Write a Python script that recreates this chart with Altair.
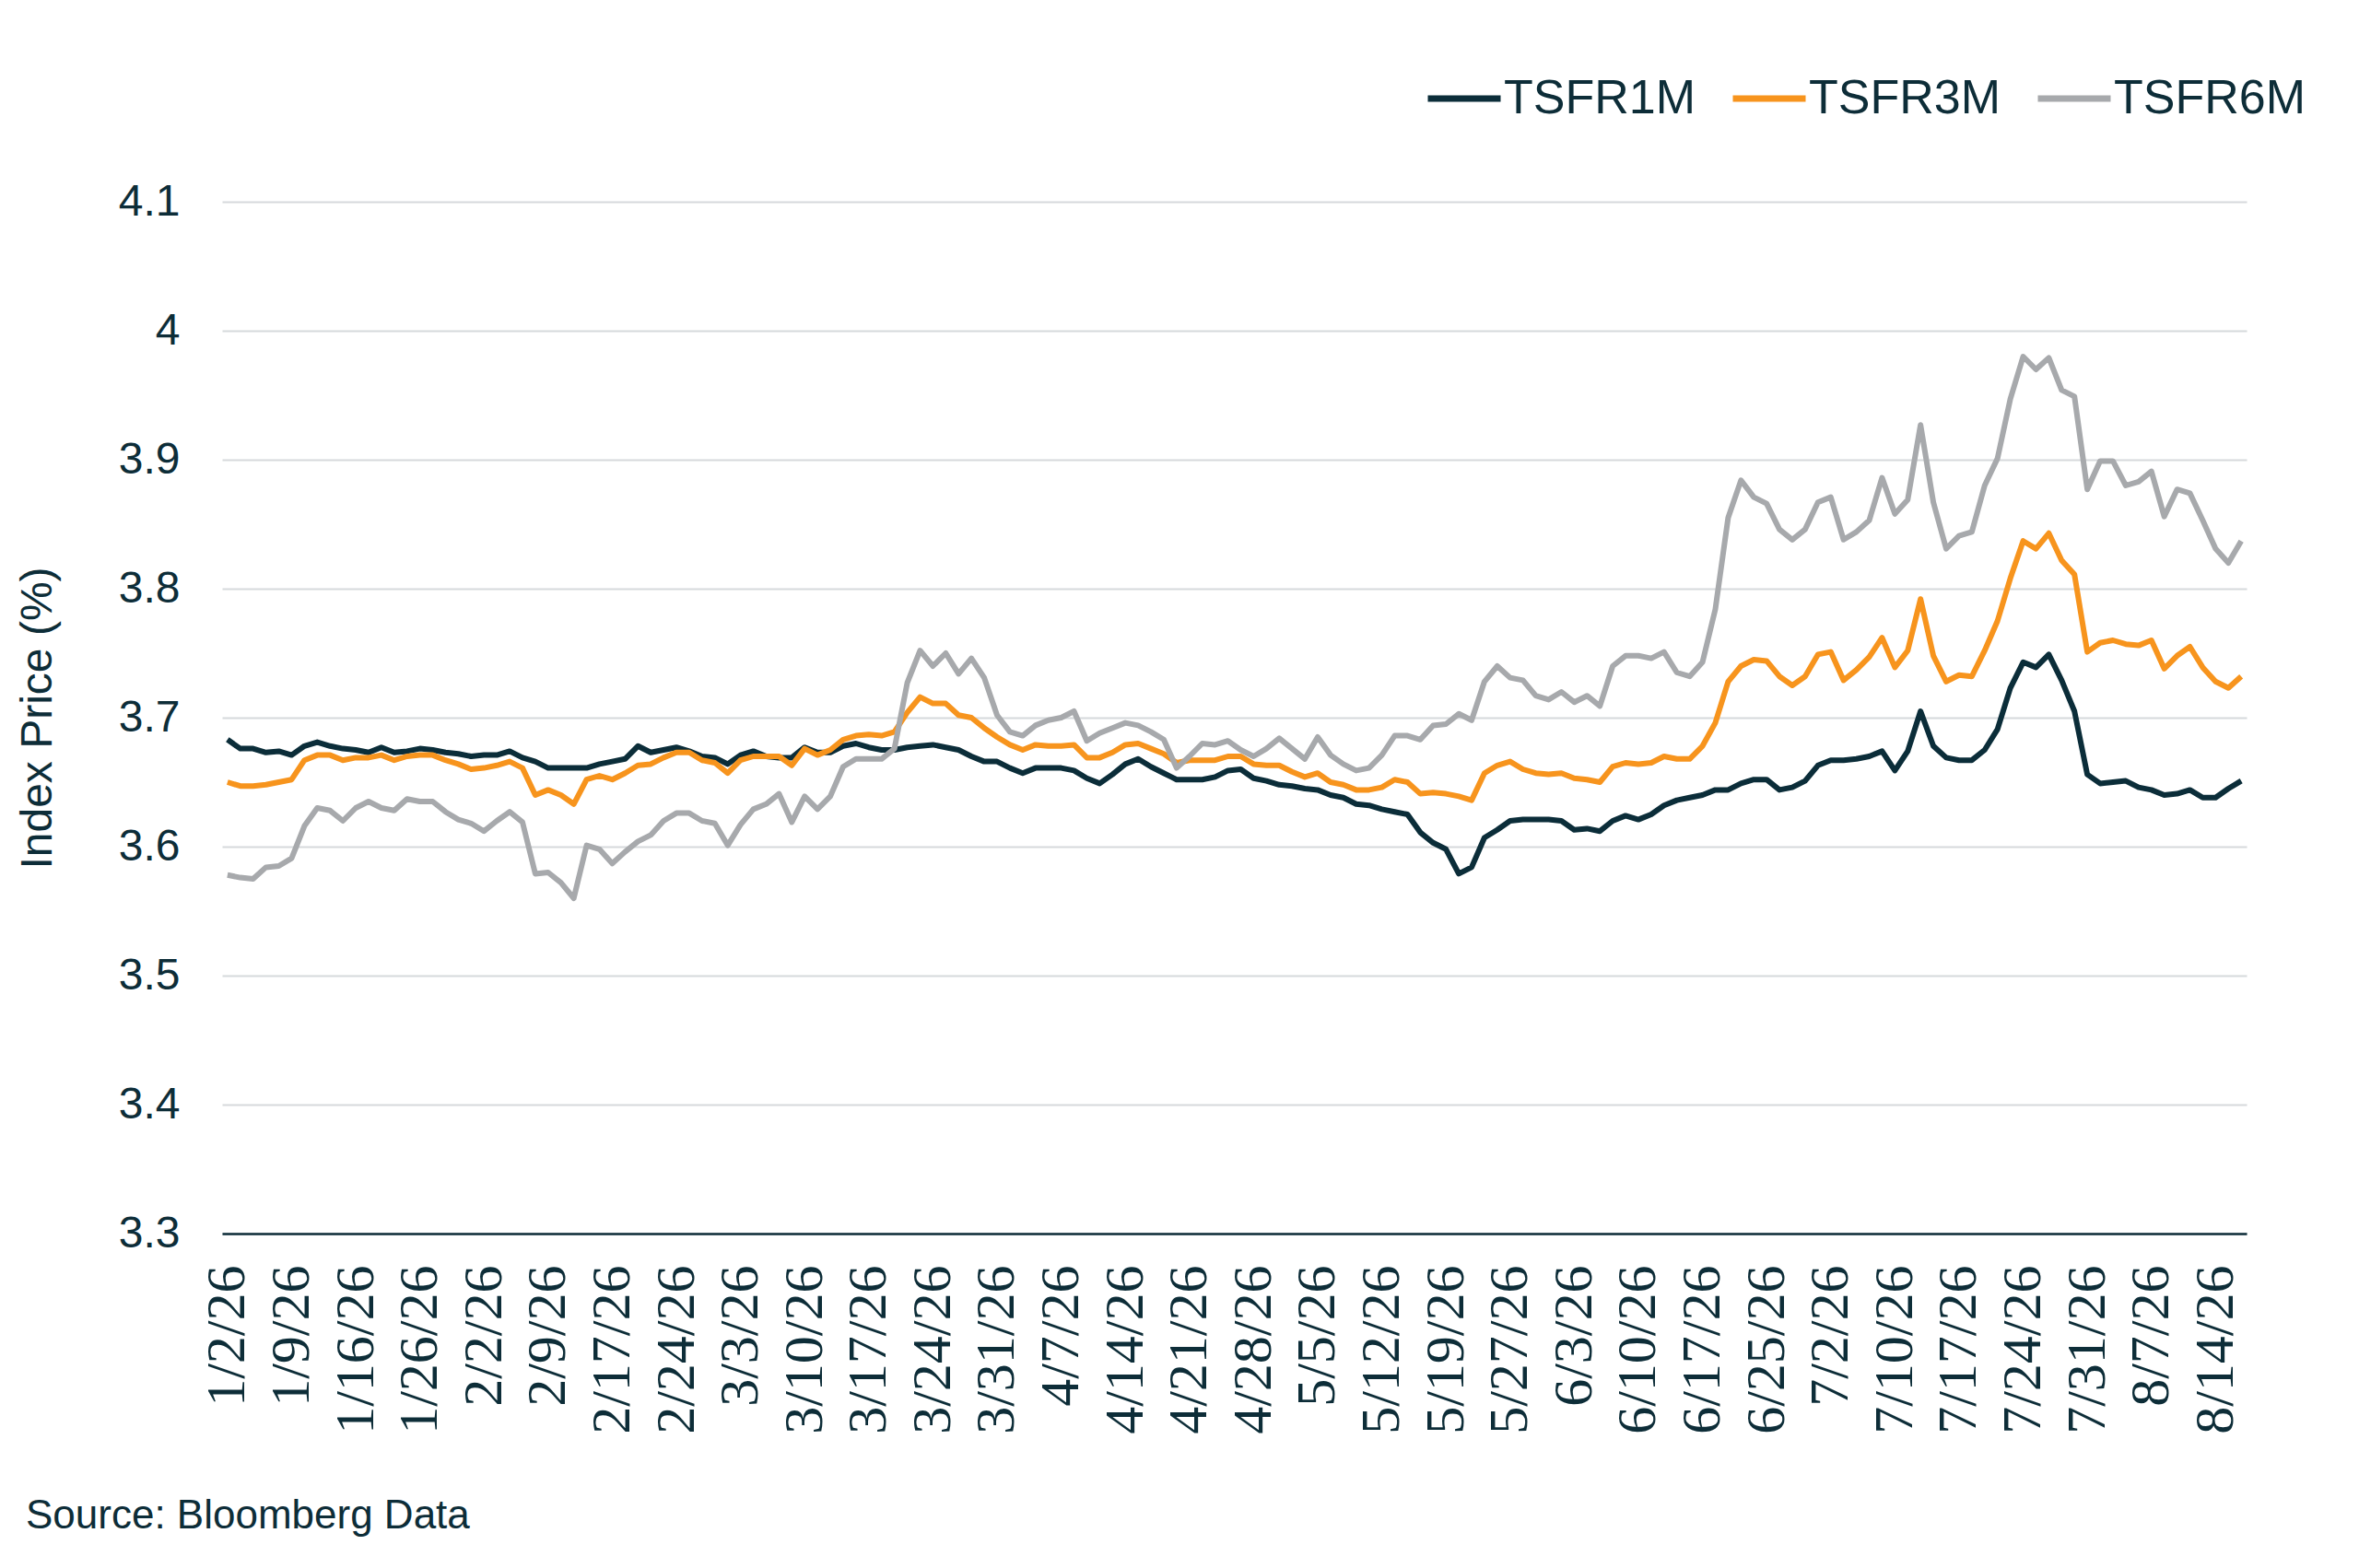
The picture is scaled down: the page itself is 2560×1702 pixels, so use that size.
import altair as alt
import pandas as pd

dates = [
    "1/2/26", "1/5/26", "1/6/26", "1/7/26", "1/8/26", "1/9/26", "1/12/26", "1/13/26", "1/14/26", "1/15/26",
    "1/16/26", "1/20/26", "1/21/26", "1/22/26", "1/23/26", "1/26/26", "1/27/26", "1/28/26", "1/29/26", "1/30/26",
    "2/2/26", "2/3/26", "2/4/26", "2/5/26", "2/6/26", "2/9/26", "2/10/26", "2/11/26", "2/12/26", "2/13/26",
    "2/17/26", "2/18/26", "2/19/26", "2/20/26", "2/23/26", "2/24/26", "2/25/26", "2/26/26", "2/27/26",
    "3/2/26", "3/3/26", "3/4/26", "3/5/26", "3/6/26", "3/9/26", "3/10/26", "3/11/26", "3/12/26", "3/13/26",
    "3/16/26", "3/17/26", "3/18/26", "3/19/26", "3/20/26", "3/23/26", "3/24/26", "3/25/26", "3/26/26", "3/27/26",
    "3/30/26", "3/31/26",
    "4/1/26", "4/2/26", "4/3/26", "4/6/26", "4/7/26", "4/8/26", "4/9/26", "4/10/26", "4/13/26", "4/14/26",
    "4/15/26", "4/16/26", "4/17/26", "4/20/26", "4/21/26", "4/22/26", "4/23/26", "4/24/26", "4/27/26", "4/28/26",
    "4/29/26", "4/30/26",
    "5/1/26", "5/4/26", "5/5/26", "5/6/26", "5/7/26", "5/8/26", "5/11/26", "5/12/26", "5/13/26", "5/14/26",
    "5/15/26", "5/18/26", "5/19/26", "5/20/26", "5/21/26", "5/22/26", "5/26/26", "5/27/26", "5/28/26", "5/29/26",
    "6/1/26", "6/2/26", "6/3/26", "6/4/26", "6/5/26", "6/8/26", "6/9/26", "6/10/26", "6/11/26", "6/12/26",
    "6/15/26", "6/16/26", "6/17/26", "6/18/26", "6/22/26", "6/23/26", "6/24/26", "6/25/26", "6/26/26", "6/29/26",
    "6/30/26",
    "7/1/26", "7/2/26", "7/6/26", "7/7/26", "7/8/26", "7/9/26", "7/10/26", "7/13/26", "7/14/26", "7/15/26",
    "7/16/26", "7/17/26", "7/20/26", "7/21/26", "7/22/26", "7/23/26", "7/24/26", "7/27/26", "7/28/26", "7/29/26",
    "7/30/26", "7/31/26",
    "8/3/26", "8/4/26", "8/5/26", "8/6/26", "8/7/26", "8/10/26", "8/11/26", "8/12/26", "8/13/26", "8/14/26",
    "8/17/26", "8/18/26",
]

tick_labels = [
    "1/2/26", "1/9/26", "1/16/26", "1/26/26", "2/2/26", "2/9/26", "2/17/26", "2/24/26", "3/3/26", "3/10/26",
    "3/17/26", "3/24/26", "3/31/26", "4/7/26", "4/14/26", "4/21/26", "4/28/26", "5/5/26", "5/12/26", "5/19/26",
    "5/27/26", "6/3/26", "6/10/26", "6/17/26", "6/25/26", "7/2/26", "7/10/26", "7/17/26", "7/24/26", "7/31/26",
    "8/7/26", "8/14/26",
]

tsfr1m = [
    3.683, 3.676, 3.676, 3.673, 3.674, 3.671, 3.678, 3.681, 3.678, 3.676,
    3.675, 3.673, 3.677, 3.673, 3.674, 3.676, 3.675, 3.673, 3.672, 3.670,
    3.671, 3.671, 3.674, 3.669, 3.666, 3.661, 3.661, 3.661, 3.661, 3.664,
    3.666, 3.668, 3.678, 3.673, 3.675, 3.677, 3.674, 3.670, 3.669, 3.664,
    3.671, 3.674, 3.670, 3.669, 3.669, 3.677, 3.673, 3.673, 3.678, 3.680,
    3.677, 3.675, 3.675, 3.677, 3.678, 3.679, 3.677, 3.675, 3.670, 3.666,
    3.666, 3.661, 3.657, 3.661, 3.661, 3.661, 3.659, 3.653, 3.649, 3.656,
    3.664, 3.668, 3.662, 3.657, 3.652, 3.652, 3.652, 3.654, 3.659, 3.660,
    3.653, 3.651, 3.648, 3.647, 3.645, 3.644, 3.640, 3.638, 3.633, 3.632,
    3.629, 3.627, 3.625, 3.611, 3.603, 3.598, 3.579, 3.584, 3.607, 3.613,
    3.620, 3.621, 3.621, 3.621, 3.620, 3.613, 3.614, 3.612, 3.620, 3.624,
    3.621, 3.625, 3.632, 3.636, 3.638, 3.640, 3.644, 3.644, 3.649, 3.652,
    3.652, 3.644, 3.646, 3.651, 3.663, 3.667, 3.667, 3.668, 3.670, 3.674,
    3.659, 3.674, 3.705, 3.678, 3.669, 3.667, 3.667, 3.675, 3.691, 3.723,
    3.743, 3.739, 3.749, 3.729, 3.705, 3.656, 3.649, 3.650, 3.651, 3.646,
    3.644, 3.640, 3.641, 3.644, 3.638, 3.638, 3.645, 3.651,
]

tsfr3m = [
    3.650, 3.647, 3.647, 3.648, 3.650, 3.652, 3.667, 3.671, 3.671, 3.667,
    3.669, 3.669, 3.671, 3.667, 3.670, 3.671, 3.671, 3.667, 3.664, 3.660,
    3.661, 3.663, 3.666, 3.661, 3.640, 3.644, 3.640, 3.633, 3.652, 3.655,
    3.652, 3.657, 3.663, 3.664, 3.669, 3.673, 3.673, 3.667, 3.665, 3.657,
    3.667, 3.670, 3.670, 3.670, 3.663, 3.676, 3.671, 3.675, 3.683, 3.686,
    3.687, 3.686, 3.689, 3.704, 3.716, 3.711, 3.711, 3.702, 3.700, 3.692,
    3.685, 3.679, 3.675, 3.679, 3.678, 3.678, 3.679, 3.669, 3.669, 3.673,
    3.679, 3.680, 3.676, 3.672, 3.665, 3.667, 3.667, 3.667, 3.670, 3.670,
    3.664, 3.663, 3.663, 3.658, 3.654, 3.657, 3.650, 3.648, 3.644, 3.644,
    3.646, 3.652, 3.650, 3.641, 3.642, 3.641, 3.639, 3.636, 3.657, 3.663,
    3.666, 3.660, 3.657, 3.656, 3.657, 3.653, 3.652, 3.650, 3.662, 3.665,
    3.664, 3.665, 3.670, 3.668, 3.668, 3.678, 3.696, 3.728, 3.740, 3.745,
    3.744, 3.732, 3.725, 3.732, 3.749, 3.751, 3.729, 3.737, 3.747, 3.762,
    3.739, 3.752, 3.792, 3.748, 3.728, 3.733, 3.732, 3.752, 3.775, 3.808,
    3.837, 3.831, 3.843, 3.822, 3.811, 3.751, 3.758, 3.760, 3.757, 3.756,
    3.760, 3.738, 3.748, 3.755, 3.739, 3.728, 3.723, 3.732,
]

tsfr6m = [
    3.578, 3.576, 3.575, 3.584, 3.585, 3.591, 3.616, 3.630, 3.628, 3.620,
    3.630, 3.635, 3.630, 3.628, 3.637, 3.635, 3.635, 3.627, 3.621, 3.618,
    3.612, 3.620, 3.627, 3.619, 3.579, 3.580, 3.572, 3.560, 3.601, 3.598,
    3.587, 3.596, 3.604, 3.609, 3.620, 3.626, 3.626, 3.620, 3.618, 3.601,
    3.617, 3.629, 3.633, 3.641, 3.619, 3.639, 3.629, 3.639, 3.662, 3.668,
    3.668, 3.668, 3.676, 3.727, 3.752, 3.740, 3.750, 3.734, 3.746, 3.731,
    3.702, 3.689, 3.686, 3.694, 3.698, 3.700, 3.705, 3.682, 3.688, 3.692,
    3.696, 3.694, 3.689, 3.683, 3.661, 3.670, 3.680, 3.679, 3.682, 3.675,
    3.670, 3.676, 3.684, 3.676, 3.668, 3.685, 3.671, 3.664, 3.659, 3.661,
    3.671, 3.686, 3.686, 3.683, 3.694, 3.695, 3.703, 3.698, 3.728, 3.740,
    3.731, 3.729, 3.717, 3.714, 3.720, 3.712, 3.717, 3.709, 3.740, 3.748,
    3.748, 3.746, 3.751, 3.735, 3.732, 3.743, 3.784, 3.855, 3.884, 3.871,
    3.866, 3.846, 3.838, 3.846, 3.867, 3.871, 3.838, 3.844, 3.853, 3.886,
    3.858, 3.869, 3.927, 3.867, 3.831, 3.841, 3.844, 3.880, 3.901, 3.947,
    3.980, 3.970, 3.979, 3.954, 3.949, 3.877, 3.899, 3.899, 3.880, 3.883,
    3.891, 3.856, 3.877, 3.874, 3.853, 3.831, 3.820, 3.837,
]

series_names = ["TSFR1M", "TSFR3M", "TSFR6M"]
series_colors = ["#0B2D39", "#F7941D", "#A7A9AC"]
y_ticks = [3.3, 3.4, 3.5, 3.6, 3.7, 3.8, 3.9, 4.0, 4.1]

rows = []
for name, vals in zip(series_names, [tsfr1m, tsfr3m, tsfr6m]):
    for d, v in zip(dates, vals):
        rows.append({"date": d, "series": name, "value": v})
df = pd.DataFrame(rows)

TEXT = "#0D2D38"

chart = (
    alt.Chart(df)
    .mark_line(strokeWidth=6, strokeJoin="round")
    .encode(
        x=alt.X(
            "date:O",
            scale=alt.Scale(domain=dates, padding=0.42),
            axis=alt.Axis(
                values=tick_labels,
                labelAngle=270,
                labelFont="Liberation Serif",
                labelFontSize=60,
                labelColor=TEXT,
                labelPadding=34,
                labelOverlap=False,
                labelLimit=0,
                ticks=False,
                grid=False,
                domain=True,
                domainColor=TEXT,
                domainWidth=2.5,
                title=None,
            ),
        ),
        y=alt.Y(
            "value:Q",
            scale=alt.Scale(domain=[3.3, 4.1], nice=False, zero=False),
            axis=alt.Axis(
                values=y_ticks,
                format=".1~f",
                labelFont="Liberation Sans",
                labelFontSize=48,
                labelColor=TEXT,
                labelPadding=46,
                ticks=False,
                domain=False,
                grid=True,
                gridColor="#D6D9DC",
                gridWidth=2,
                title="Index Price (%)",
                titleFont="Liberation Sans",
                titleFontSize=48,
                titleFontWeight="normal",
                titleColor=TEXT,
                titleX=-200,
                titleBaseline="middle",
            ),
        ),
        color=alt.Color(
            "series:N",
            scale=alt.Scale(domain=series_names, range=series_colors),
            legend=alt.Legend(
                orient="none",
                legendX=1305,
                legendY=-155,
                direction="horizontal",
                title=None,
                symbolType="stroke",
                symbolSize=6241,
                symbolStrokeWidth=7,
                labelFont="Liberation Sans",
                labelFontSize=52,
                labelColor=TEXT,
                labelOffset=0,
                columnPadding=26,
                labelLimit=0,
                padding=0,
            ),
        ),
    )
    .properties(
        width=2197,
        height=1120,
        padding={"left": 233, "top": 211, "right": 100, "bottom": 340},
        autosize=alt.AutoSizeParams(type="none"),
        title=alt.TitleParams(
            text="Source: Bloomberg Data",
            orient="bottom",
            anchor="start",
            frame="group",
            dx=-213,
            offset=68,
            font="Liberation Sans",
            fontSize=44,
            fontWeight="normal",
            color=TEXT,
        ),
        background="white",
    )
    .configure_view(stroke=None)
)

chart.save("out.html", embed_options={"renderer": "svg", "actions": False})
